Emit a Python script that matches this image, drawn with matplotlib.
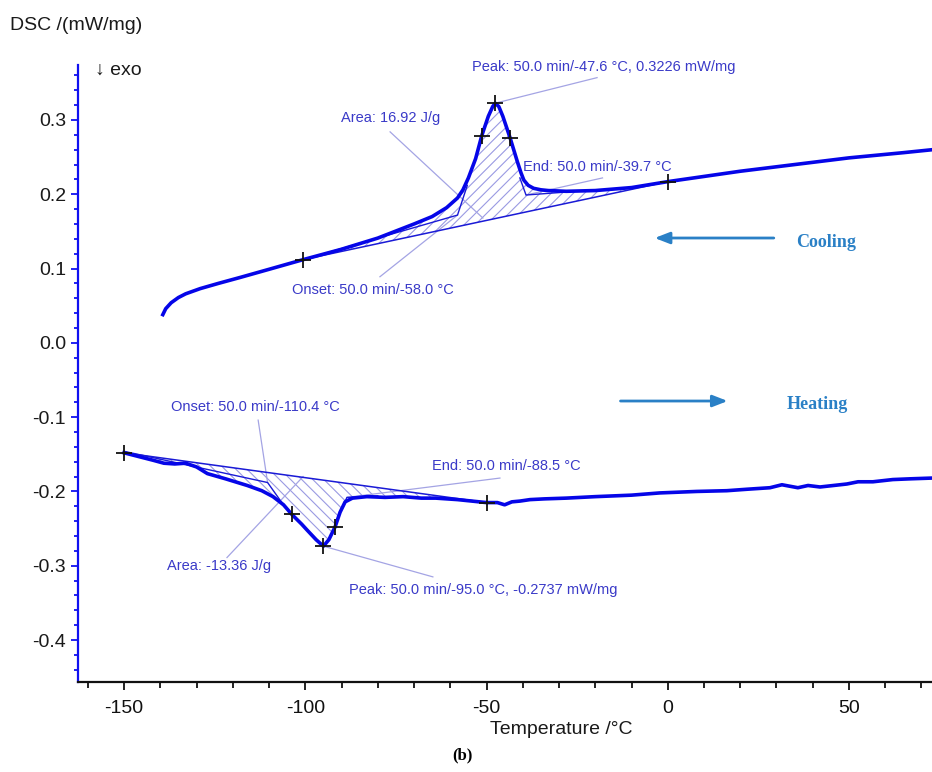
import numpy as np
import matplotlib
matplotlib.use("Agg")
import matplotlib.pyplot as plt

plt.rcParams['font.family'] = ['Liberation Sans', 'DejaVu Sans']
plt.rcParams['hatch.linewidth'] = 0.8
plt.rcParams['axes.unicode_minus'] = False

# ---------- cooling run (upper trace) ----------
t_cool = [-139.3, -138.5, -137.0, -135.0, -133.0, -129.0, -124.0, -118.0, -110.0,
          -100.6, -90.0, -80.0, -70.0, -65.0, -61.0, -58.0, -56.5, -55.0, -53.0,
          -51.3, -49.5, -48.3, -47.6, -46.6, -45.5, -43.5, -41.5, -40.5, -39.7,
          -38.5, -37.0, -35.0, -33.0, -28.0, -20.0, -10.0, 0.0, 10.0, 20.0, 35.0,
          50.0, 65.0, 73.0]
dsc_cool = [0.038, 0.046, 0.054, 0.061, 0.066, 0.073, 0.080, 0.088, 0.099,
            0.112, 0.126, 0.141, 0.160, 0.170, 0.182, 0.195, 0.206, 0.222, 0.248,
            0.279, 0.305, 0.318, 0.3226, 0.318, 0.305, 0.276, 0.244, 0.229, 0.219,
            0.212, 0.208, 0.206, 0.205, 0.204, 0.205, 0.209, 0.217, 0.224, 0.231, 0.240,
            0.249, 0.256, 0.260]

# ---------- heating run (lower trace) ----------
t_heat = [-150.0, -146.0, -142.0, -139.0, -136.0, -133.0, -130.0, -127.0, -122.0,
          -116.0, -112.0, -108.9, -106.0, -103.7, -101.0, -99.5, -97.0, -95.0,
          -93.5, -91.8, -90.4, -89.0, -87.0, -83.0, -78.0, -73.0, -68.0, -64.0,
          -58.0, -54.0, -50.0, -47.0, -45.0, -43.0, -40.8, -38.0, -34.0, -28.0,
          -20.0, -10.0, -2.2, 8.0, 16.3, 22.0, 28.2, 31.5, 35.9, 38.7, 42.0, 49.4,
          52.5, 56.6, 62.1, 67.0, 72.9]
dsc_heat = [-0.148, -0.153, -0.158, -0.162, -0.163, -0.162, -0.167, -0.176, -0.183,
            -0.192, -0.199, -0.207, -0.218, -0.231, -0.244, -0.252, -0.265, -0.2737,
            -0.265, -0.248, -0.228, -0.214, -0.209, -0.207, -0.208, -0.207, -0.209, -0.209,
            -0.211, -0.213, -0.215, -0.215, -0.218, -0.214, -0.213, -0.211, -0.210, -0.209,
            -0.207, -0.205, -0.202, -0.200, -0.199, -0.197, -0.195, -0.191, -0.195, -0.192,
            -0.194, -0.190, -0.187, -0.187, -0.184, -0.183, -0.182]

# evaluation results (temperature, signal)
cool_limits = [(-100.6, 0.112), (0.0, 0.217)]
cool_peak = (-47.6, 0.3226)
cool_flanks = [(-51.3, 0.279), (-43.5, 0.276)]
cool_onset = (-58.0, 0.172)
cool_end = (-39.7, 0.199)

heat_limits = [(-150.0, -0.148), (-49.9, -0.215)]
heat_peak = (-95.0, -0.2737)
heat_flanks = [(-103.7, -0.231), (-91.8, -0.248)]
heat_onset = (-110.4, -0.188)
heat_end = (-88.5, -0.208)

curve_c = '#0505e8'
line_c = '#1a1ad6'
lead_c = '#a4a4e4'
text_c = '#3a3ac8'
note_c = '#2a80c6'

fig = plt.figure(figsize=(9.32, 7.72), dpi=100)
ax = fig.add_axes([78 / 932, 1 - 682 / 772, 1 - 78 / 932, (682 - 65) / 772])

t_cool = np.array(t_cool)
dsc_cool = np.array(dsc_cool)
t_heat = np.array(t_heat)
dsc_heat = np.array(dsc_heat)

# hatched peak areas between trace and straight baseline
def peak_area(t, y, limits, hatch):
    (ta, ya), (tb, yb) = limits
    m = (t > ta) & (t < tb)
    px = np.r_[ta, t[m], tb]
    py = np.r_[ya, y[m], yb]
    ax.fill(px, py, facecolor='none', edgecolor='#9a9ae2', hatch=hatch, lw=0)
    ax.plot([ta, tb], [ya, yb], color=line_c, lw=1.1)

peak_area(t_cool, dsc_cool, cool_limits, '///')
peak_area(t_heat, dsc_heat, heat_limits, '\\\\\\')

# tangent constructions
ax.plot([cool_limits[0][0], cool_onset[0], -55.3], [cool_limits[0][1], cool_onset[1], 0.212],
        color=line_c, lw=1.0)
ax.plot([-40.8, cool_end[0] + 0.6, -28.0], [0.222, cool_end[1], 0.203], color=line_c, lw=1.0)
ax.plot([heat_limits[0][0], heat_onset[0], -105.6], [heat_limits[0][1] + 0.002, heat_onset[1], -0.221],
        color=line_c, lw=1.0)
ax.plot([-91.5, heat_end[0], -80.0], [-0.240, heat_end[1], -0.206], color=line_c, lw=1.0)

ax.plot(t_cool, dsc_cool, color=curve_c, lw=2.6, solid_joinstyle='round')
ax.plot(t_heat, dsc_heat, color=curve_c, lw=2.6, solid_joinstyle='round')

marks = cool_limits + cool_flanks + [cool_peak] + heat_limits + heat_flanks + [heat_peak]
ax.plot([p[0] for p in marks], [p[1] for p in marks], ls='none', marker='+',
        ms=12, mew=1.3, color='#111111', zorder=5)

# leader lines and labels
def note(text, xy_txt, p0, p1):
    ax.plot([p0[0], p1[0]], [p0[1], p1[1]], color=lead_c, lw=0.9, zorder=1)
    ax.text(xy_txt[0], xy_txt[1], text, color=text_c, fontsize=10.5, va='center', ha='left')

note('Peak: 50.0 min/-47.6 °C, 0.3226 mW/mg', (-53.9, 0.371), cool_peak, (-19.5, 0.357))
note('Area: 16.92 J/g', (-90.2, 0.303), (-76.6, 0.284), (-51.0, 0.168))
note('End: 50.0 min/-39.7 °C', (-39.9, 0.237), (cool_end[0] + 0.6, cool_end[1]), (-18.0, 0.222))
note('Onset: 50.0 min/-58.0 °C', (-103.6, 0.071), (-79.4, 0.089), cool_onset)

note('Onset: 50.0 min/-110.4 °C', (-137.0, -0.087), (-113.0, -0.104), heat_onset)
note('End: 50.0 min/-88.5 °C', (-65.0, -0.166), (-46.3, -0.182), heat_end)
note('Area: -13.36 J/g', (-138.1, -0.300), (-121.6, -0.289), (-100.6, -0.180))
note('Peak: 50.0 min/-95.0 °C, -0.2737 mW/mg', (-87.9, -0.332), heat_peak, (-64.8, -0.315))

# direction arrows
ax.annotate('', xy=(0.672, 0.7196), xytext=(0.818, 0.7196), xycoords='axes fraction',
            arrowprops=dict(arrowstyle='-|>,head_length=0.9,head_width=0.35', color=note_c, lw=2.0))
ax.text(0.841, 0.713, 'Cooling', transform=ax.transAxes, color=note_c, fontsize=13,
        fontweight='bold', family='Liberation Serif', va='center')
ax.annotate('', xy=(0.764, 0.4554), xytext=(0.632, 0.4554), xycoords='axes fraction',
            arrowprops=dict(arrowstyle='-|>,head_length=0.9,head_width=0.35', color=note_c, lw=2.0))
ax.text(0.830, 0.449, 'Heating', transform=ax.transAxes, color=note_c, fontsize=13,
        fontweight='bold', family='Liberation Serif', va='center')

# axes styling
ax.set_xlim(-162.7, 72.9)
ax.set_ylim(-0.4565, 0.374)
ax.set_xticks([-150, -100, -50, 0, 50])
ax.set_xticks(np.arange(-160, 80, 10), minor=True)
ax.set_yticks(np.arange(-0.4, 0.31, 0.1))
ax.set_yticks(np.arange(-0.44, 0.37, 0.02), minor=True)
ax.set_yticklabels(['%.1f' % v if abs(v) > 1e-9 else '0.0' for v in np.arange(-0.4, 0.31, 0.1)])
for s in ['top', 'right']:
    ax.spines[s].set_visible(False)
ax.spines['left'].set_color('#1010f0')
ax.spines['left'].set_linewidth(1.6)
ax.spines['bottom'].set_color('#111111')
ax.spines['bottom'].set_linewidth(1.6)
ax.tick_params(axis='y', which='both', colors='#1010f0', labelcolor='#1a1a1a', labelsize=14, width=1.3)
ax.tick_params(axis='y', which='major', length=5)
ax.tick_params(axis='y', which='minor', length=3)
ax.tick_params(axis='x', which='both', colors='#111111', labelsize=14, width=1.3)
ax.tick_params(axis='x', which='major', length=6, pad=7)
ax.tick_params(axis='x', which='minor', length=4)

fig.text(10 / 932, 1 - 25 / 772, 'DSC /(mW/mg)', fontsize=14, color='#1a1a1a', va='center')
fig.text(95 / 932, 1 - 70 / 772, '↓ exo', fontsize=14, color='#1a1a1a', va='center')
fig.text(561 / 932, 1 - 730 / 772, 'Temperature /°C', fontsize=14, color='#1a1a1a',
         va='center', ha='center')
fig.text(462 / 932, 1 - 755 / 772, '(b)', fontsize=12, fontweight='bold',
         family='Liberation Serif', va='center', ha='center')

fig.savefig('out.png', dpi=100)
